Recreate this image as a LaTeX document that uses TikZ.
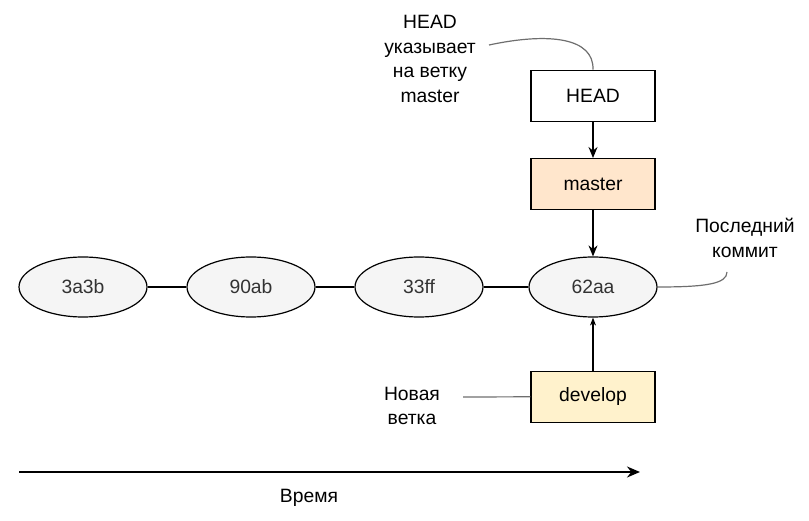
\documentclass[tikz,border=0pt]{standalone}
\usepackage{fontspec}
\setmainfont{Liberation Sans}
\usetikzlibrary{
  arrows.meta,
  positioning,
  shapes.geometric
}
\definecolor{commitfill}{RGB}{245,245,245}
\definecolor{committext}{RGB}{51,51,51}
\definecolor{masterfill}{RGB}{255,230,204}
\definecolor{developfill}{RGB}{255,242,204}
\definecolor{noteline}{RGB}{110,110,110}

\begin{document}
\begin{tikzpicture}[
  x=1pt, y=-1pt,
  font=\fontsize{19.3}{24.5}\selectfont,
  commit/.style={
    ellipse,
    draw=black,
    line width=1.2pt,
    fill=commitfill,
    text=committext,
    minimum width=128pt,
    minimum height=60pt,
    inner sep=0pt
  },
  refbox/.style={
    draw=black,
    line width=1.4pt,
    minimum width=124pt,
    minimum height=51pt,
    inner sep=0pt,
    fill=white
  },
  notetext/.style={
    align=center,
    inner sep=0pt
  },
  noteline/.style={
    draw=noteline,
    line width=1.2pt
  },
  link/.style={
    draw=black,
    line width=1.2pt
  },
  arr/.style={
    -{Stealth[length=11pt,width=9pt]},
    draw=black,
    line width=1.4pt
  },
  thinarr/.style={
    -{Stealth[length=8pt,width=6pt]},
    draw=black,
    line width=1.1pt
  }
]
\useasboundingbox (0,0) rectangle (809,521);

% commits
\node[commit] (c3a3b) at (83,287) {3a3b};
\node[commit] (c90ab) at (251,287) {90ab};
\node[commit] (c33ff) at (419,287) {33ff};
\node[commit] (c62aa) at (593,287) {62aa};

\draw[link] (c3a3b) -- (c90ab);
\draw[link] (c90ab) -- (c33ff);
\draw[link] (c33ff) -- (c62aa);

% branches and HEAD
\node[refbox, fill=masterfill, above=46pt of c62aa] (master) {master};
\node[refbox, above=36pt of master] (head) {HEAD};
\node[refbox, fill=developfill, below=53pt of c62aa] (develop) {develop};

\draw[arr] (head) -- (master);
\draw[arr] (master) -- (c62aa);
\draw[thinarr] (develop) -- (c62aa);

% notes
\node[notetext] (headnote) at (430,59) {HEAD\\указывает\\на ветку\\master};
\node[notetext] (lastnote) at (745,238) {Последний\\коммит};
\node[notetext] (newnote) at (412,406) {Новая\\ветка};

\coordinate (headtip) at (489,45);
\coordinate (lasttip) at (727,272);
\coordinate (newtip) at (463,397);

\draw[noteline] (headtip) .. controls (550,32) and (594,38) .. (head.north);
\draw[noteline] (c62aa.east) .. controls (705,287) and (727,284) .. (lasttip);
\draw[noteline] (newtip) -- (develop.west);

% time axis
\coordinate (tstart) at (19,472);
\coordinate (tend) at (640,472);
\draw[-{Stealth[length=13pt,width=11pt]}, line width=1.6pt] (tstart) -- (tend);
\node[notetext] (timelabel) at (309,498) {Время};

\end{tikzpicture}
\end{document}
